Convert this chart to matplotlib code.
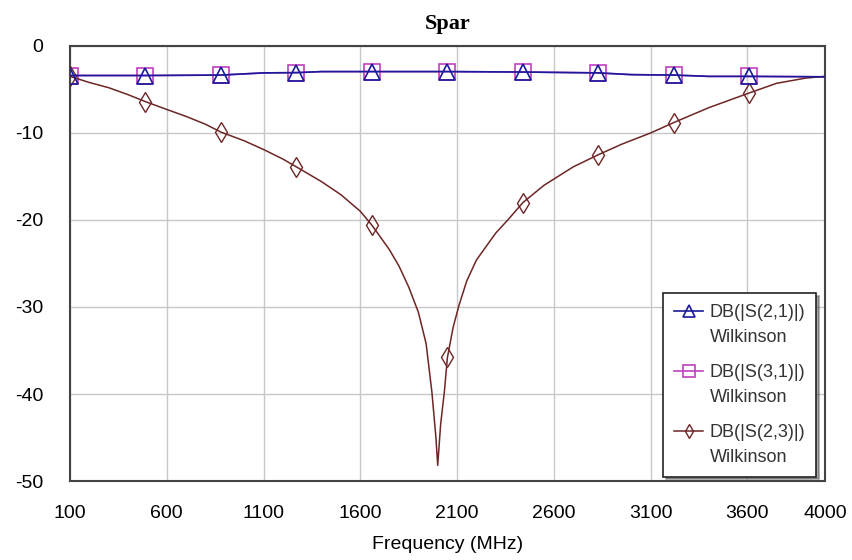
import numpy as np
from matplotlib import pyplot as plt
from matplotlib.lines import Line2D
from matplotlib.legend_handler import HandlerLine2D

# S(2,3) isolation
f23 = [100, 200, 300, 400, 490, 600, 700, 800, 880, 1000, 1100, 1200, 1270, 1400, 1500,
       1600, 1660, 1750, 1800, 1850, 1900, 1940, 1970, 1990, 2000, 2015, 2035, 2050, 2080,
       2110, 2150, 2200, 2300, 2362, 2440, 2550, 2700, 2830, 2950, 3100, 3220, 3400, 3610,
       3750, 3900, 4000]
s23 = [-3.5, -4.2, -4.8, -5.6, -6.4, -7.3, -8.1, -9.0, -9.9, -10.9, -11.9, -13.0, -13.9, -15.6, -17.1,
       -19.0, -20.6, -23.4, -25.3, -27.7, -30.6, -34.2, -39.8, -44.8, -48.2, -43.5, -39.6, -35.8, -32.3,
       -29.8, -27.0, -24.6, -21.5, -20.0, -18.0, -16.0, -13.9, -12.5, -11.3, -10.0, -8.8, -7.1, -5.4,
       -4.3, -3.7, -3.5]

# S(2,1) and S(3,1) transmission
f21 = [100, 490, 880, 1100, 1270, 1400, 1660, 2050, 2440, 2830, 3000, 3220, 3400, 3610, 4000]
s21 = [-3.4, -3.4, -3.35, -3.1, -3.07, -2.95, -2.95, -2.95, -3.0, -3.1, -3.3, -3.35, -3.5, -3.5, -3.55]
s31 = [-3.4, -3.4, -3.35, -3.1, -3.07, -2.95, -2.95, -2.95, -3.0, -3.1, -3.3, -3.35, -3.5, -3.5, -3.55]

mark_f = [100, 490, 880, 1270, 1660, 2050, 2440, 2830, 3220, 3610]

xticks = [100, 600, 1100, 1600, 2100, 2600, 3100, 3600, 4000]
yticks = [0, -10, -20, -30, -40, -50]

sans = ['Liberation Sans', 'DejaVu Sans']


# legend symbol sits on the first text line, like the original
class UpHandler(HandlerLine2D):
    def create_artists(self, legend, orig_handle, xdescent, ydescent, width, height, fontsize, trans):
        arts = super().create_artists(legend, orig_handle, xdescent, ydescent, width, height, fontsize, trans)
        for a in arts:
            a.set_ydata(np.asarray(a.get_ydata()) + 0.8 * fontsize)
        return arts


fig = plt.figure(figsize=(8.53, 5.6), dpi=100)
ax = fig.add_axes([0.082, 0.141, 0.885, 0.777])

idx21 = [f21.index(m) for m in mark_f]
idx23 = [f23.index(m) for m in mark_f]

ax.plot(f21, s31, color='#c040c0', lw=1.2, marker='s', ms=11, mfc='none', mew=1.2,
        markevery=idx21, label='DB(|S(3,1)|)\nWilkinson', zorder=3)
ax.plot(f21, s21, color='#1a1a9a', lw=1.2, marker='^', ms=11, mfc='none', mew=1.2,
        markevery=idx21, label='DB(|S(2,1)|)\nWilkinson', zorder=4)
ax.plot(f23, s23, color='#6e2525', lw=1.1, marker='d', ms=10, mfc='none', mew=1.0,
        markevery=idx23, label='DB(|S(2,3)|)\nWilkinson', zorder=3)

ax.set_xlim(100, 4000)
ax.set_ylim(-50, 0)
ax.set_xticks(xticks)
ax.set_yticks(yticks)
ax.set_xticklabels([str(t) for t in xticks], family=sans, fontsize=14)
ax.set_yticklabels([str(t) for t in yticks], family=sans, fontsize=14)
ax.tick_params(axis='y', length=0, pad=19)
ax.tick_params(axis='x', length=0, pad=17)
ax.grid(True, color='#c8c8c8', lw=1.0)
ax.set_axisbelow(True)
for s in ax.spines.values():
    s.set_color('#444444')
    s.set_linewidth(1.5)

ax.set_title('Spar', family='Liberation Serif', fontweight='bold', fontsize=16, pad=12)
ax.set_xlabel('Frequency (MHz)', family=sans, fontsize=14, labelpad=10)

h, l = ax.get_legend_handles_labels()
order = [1, 0, 2]
leg = ax.legend([h[i] for i in order], [l[i] for i in order], loc='lower right',
                bbox_to_anchor=(0.993, 0.002), fancybox=False, shadow=True,
                edgecolor='#222222', framealpha=1, prop={'family': sans, 'size': 13},
                handlelength=1.6, handletextpad=0.35, labelspacing=1.0, borderpad=0.6,
                borderaxespad=0.2, markerscale=0.75, handler_map={Line2D: UpHandler()})
for t in leg.get_texts():
    t.set_linespacing(1.6)
    t.set_color('#333333')
leg.get_frame().set_linewidth(1.2)

plt.savefig('out.png', dpi=100)
